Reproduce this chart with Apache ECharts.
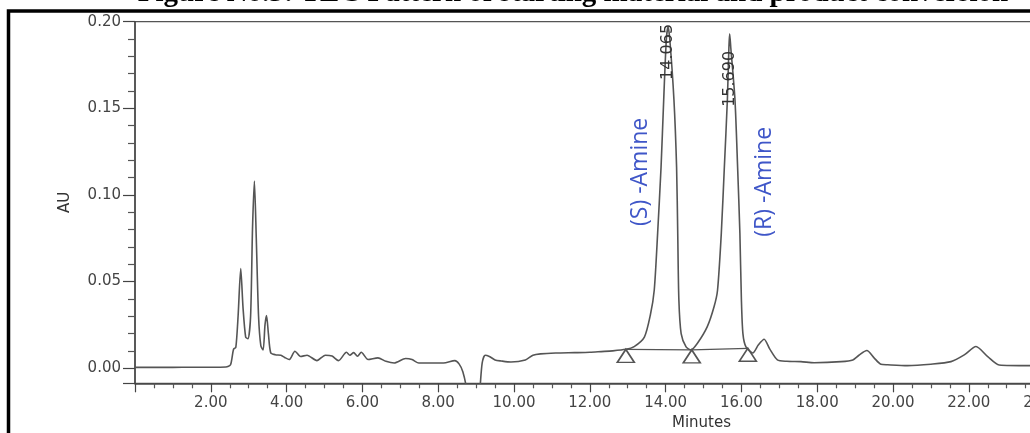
<!DOCTYPE html>
<html><head><meta charset="utf-8">
<script src="https://cdn.jsdelivr.net/npm/echarts/dist/echarts.min.js"></script>
<style>html,body{margin:0;padding:0;background:#fff}#c{width:1030px;height:433px}</style>
</head><body><div id="c"></div>
<script>
const titleText = 'Figure No.3: TLC Pattern of starting material and product conversion';
const xAxisName = 'Minutes';
const yAxisName = 'AU';

// Retention time (min)
const times = [0,0.5,1.0,1.5,2.0,2.4,2.52,2.6,2.66,2.72,2.79,2.85,2.92,2.98,3.05,3.1,3.15,3.2,3.26,3.32,3.38,3.43,3.47,3.52,3.58,3.7,3.85,3.95,4.07,4.22,4.37,4.54,4.8,5.02,5.2,5.37,5.58,5.67,5.77,5.87,5.97,6.15,6.41,6.62,6.84,7.14,7.31,7.49,7.79,8.14,8.44,8.55,8.65,8.75,8.85,9.0,9.1,9.16,9.24,9.35,9.5,9.66,9.92,10.3,10.5,10.7,11.1,11.6,12.0,12.3,12.6,12.95,13.17,13.44,13.6,13.7,13.79,13.88,13.95,14.02,14.065,14.11,14.22,14.29,14.32,14.35,14.41,14.54,14.67,14.84,15.1,15.28,15.37,15.47,15.55,15.63,15.67,15.69,15.72,15.83,15.9,15.96,16.0,16.04,16.12,16.3,16.45,16.6,16.75,16.95,17.2,17.57,17.92,18.63,18.94,19.1,19.31,19.5,19.68,19.86,20.38,21.0,21.53,21.88,22.19,22.5,22.8,23.64,24.5,26];
// Absorbance (AU)
const absorbance = [0.0005,0.0005,0.0005,0.0006,0.0006,0.0007,0.002,0.011,0.012,0.03,0.0575,0.035,0.018,0.017,0.03,0.08,0.108,0.075,0.03,0.013,0.0105,0.025,0.0304,0.02,0.009,0.0078,0.0075,0.0062,0.005,0.0098,0.0068,0.0075,0.0044,0.0075,0.007,0.0044,0.0092,0.0075,0.009,0.0069,0.0092,0.005,0.006,0.004,0.003,0.0056,0.005,0.003,0.003,0.003,0.0044,0.0025,-0.002,-0.012,-0.03,-0.03,-0.012,0.003,0.0075,0.0068,0.0048,0.0042,0.0036,0.0048,0.0075,0.0083,0.0088,0.009,0.0092,0.0096,0.0100,0.0109,0.0125,0.018,0.031,0.045,0.078,0.116,0.155,0.19,0.197,0.19,0.155,0.116,0.078,0.0395,0.020,0.0123,0.0106,0.0144,0.024,0.0356,0.045,0.078,0.116,0.155,0.185,0.193,0.185,0.155,0.116,0.078,0.0395,0.020,0.0123,0.0088,0.0135,0.0167,0.011,0.0048,0.004,0.0038,0.0032,0.0038,0.0048,0.0075,0.0102,0.006,0.0023,0.002,0.0015,0.0023,0.0038,0.0077,0.0125,0.0067,0.0019,0.0015,0.0015,0.0015];

// Integration baseline marks
const baselineTimes = [12.95, 14.69, 16.17];
const baselineValues = [0.0109, 0.0106, 0.0115];

// Peaks
const peakTimes = [14.065, 15.690];
const peakHeights = [0.197, 0.193];
const peakLabels = ['14.065', '15.690'];
const peakNames = ['(S) -Amine', '(R) -Amine'];

const trace = times.map((t, i) => [t, absorbance[i]]);
const baseline = baselineTimes.map((t, i) => [t, baselineValues[i]]);

const chart = echarts.init(document.getElementById('c'), null, {renderer: 'canvas'});
const axisColor = '#444';
const labelFont = 'DejaVu Sans';

chart.setOption({
  animation: false,
  backgroundColor: '#fff',
  grid: {left: 135, right: -90.4, top: 21.7, bottom: 49.7, containLabel: false, outerBoundsMode: 'none',
         show: true, borderColor: '#555', borderWidth: 1.2, backgroundColor: 'transparent'},
  xAxis: {
    type: 'value', min: 0, max: 26, interval: 2,
    axisLine: {show: true, onZero: false, lineStyle: {color: axisColor, width: 1.5}},
    axisTick: {show: true, length: 9, lineStyle: {color: axisColor, width: 1.2}},
    minorTick: {show: true, splitNumber: 4, length: 5, lineStyle: {color: '#555', width: 1.2}},
    splitLine: {show: false},
    axisLabel: {show: true, showMinLabel: false, hideOverlap: false, margin: 12, color: '#444', fontFamily: labelFont, fontSize: 15,
      formatter: v => v.toFixed(2)}
  },
  yAxis: {
    type: 'value', min: -0.0087, max: 0.2, splitNumber: 4,
    name: yAxisName, nameLocation: 'middle', nameGap: 62, nameRotate: 90,
    nameTextStyle: {color: '#333', fontFamily: labelFont, fontSize: 15},
    axisLine: {show: true, onZero: false, lineStyle: {color: axisColor, width: 1.5}},
    axisTick: {show: true, length: 12, lineStyle: {color: axisColor, width: 1.2}},
    minorTick: {show: true, splitNumber: 5, length: 7, lineStyle: {color: '#555', width: 1.2}},
    splitLine: {show: false},
    axisLabel: {show: true, showMinLabel: false, margin: 14, color: '#444', fontFamily: labelFont, fontSize: 15,
      formatter: v => v.toFixed(2)}
  },
  series: [
    {type: 'line', data: trace, showSymbol: false, symbol: 'none', smooth: 0.25, clip: true,
     lineStyle: {color: '#555', width: 1.6}, z: 3},
    {type: 'line', data: baseline, symbol: 'triangle', symbolSize: [17, 13], symbolOffset: [0, 6.5],
     showSymbol: true, clip: false,
     itemStyle: {color: 'rgba(255,255,255,0)', borderColor: '#555', borderWidth: 1.6},
     lineStyle: {color: '#555', width: 1.3}, z: 4}
  ]
});

const g = [];
// outer figure frame
g.push({type: 'rect', shape: {x: 8.5, y: 11, width: 1200, height: 600}, style: {fill: 'none', stroke: '#000', lineWidth: 3.5}, silent: true, z: 10});
// title (cut by the top edge)
g.push({type: 'text', x: 573, y: 8, style: {text: titleText, font: 'bold 29px "Liberation Serif"', fill: '#000', align: 'center', verticalAlign: 'bottom'}, z: 10});
// x axis name
const gridBottomPx = chart.convertToPixel({gridIndex: 0}, [0, -0.0087])[1];
const minutesX = chart.convertToPixel({gridIndex: 0}, [15, 0])[0];
g.push({type: 'text', x: minutesX - 2, y: gridBottomPx + 40, style: {text: xAxisName, font: '15px "DejaVu Sans"', fill: '#333', align: 'center', verticalAlign: 'middle'}, z: 10});
// peak retention time labels
const labelOffsets = [25, 45];
const nameOffsets = [[-28, 145], [35, 148]];
peakTimes.forEach((t, i) => {
  const p = chart.convertToPixel({gridIndex: 0}, [t, peakHeights[i]]);
  g.push({type: 'text', x: p[0], y: p[1] + labelOffsets[i], rotation: Math.PI / 2,
    style: {text: peakLabels[i], font: '16px "DejaVu Sans"', fill: '#333', align: 'center', verticalAlign: 'middle'}, z: 10});
  g.push({type: 'text', x: p[0] + nameOffsets[i][0], y: p[1] + nameOffsets[i][1], rotation: Math.PI / 2,
    style: {text: peakNames[i], font: '23px "Open Sans"', fill: '#3f56c8', align: 'center', verticalAlign: 'middle'}, z: 10});
});
chart.setOption({graphic: g});
</script>
</body></html>
